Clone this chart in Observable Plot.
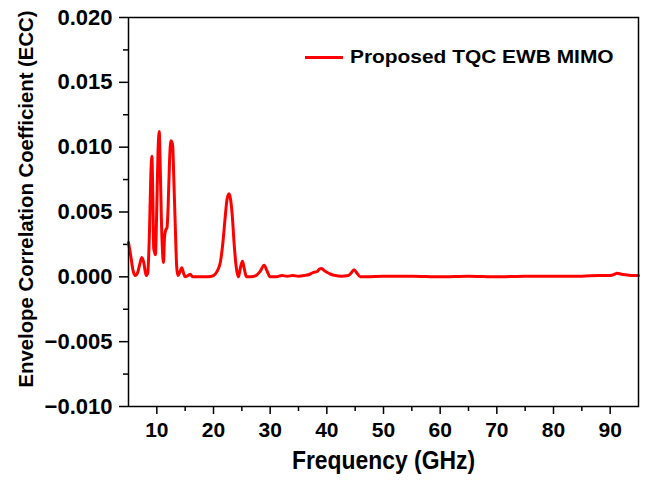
<!DOCTYPE html>
<html>
<head>
<meta charset="utf-8">
<script src="https://cdn.jsdelivr.net/npm/d3@7"></script>
<script src="https://cdn.jsdelivr.net/npm/@observablehq/plot@0.6"></script>
<style>
  html, body { margin: 0; padding: 0; background: #fff; }
  #wrap { position: relative; width: 649px; height: 483px; font-family: "Liberation Sans", Arial, sans-serif; }
  #legend { position: absolute; left: 305px; top: 46px; display: flex; align-items: center; font-weight: bold; font-size: 19px; color: #000; white-space: nowrap; }
  #legend .sw { width: 38px; height: 3px; background: #ff0000; margin-right: 7px; }
  #legtext { display: inline-block; transform: scaleX(1.1); transform-origin: left center; }
</style>
</head>
<body>
<div id="wrap"><div id="legend"><span class="sw"></span><span id="legtext"></span></div></div>
<script>
const seriesName = "Proposed TQC EWB MIMO";
const xTitle = "Frequency (GHz)";
const yTitle = "Envelope Correlation Coefficient (ECC)";
const xTicks = [10, 20, 30, 40, 50, 60, 70, 80, 90];
const xMinorTicks = [15, 25, 35, 45, 55, 65, 75, 85];
const yTicks = [-0.010, -0.005, 0.000, 0.005, 0.010, 0.015, 0.020];
const yMinorTicks = [-0.0075, -0.0025, 0.0025, 0.0075, 0.0125, 0.0175];

const freq = [5.0, 5.4, 5.8, 6.2, 6.6, 7.0, 7.35, 7.7, 8.1, 8.4, 8.7, 8.95, 9.13, 9.3, 9.45, 9.6, 9.75, 9.95, 10.2, 10.42, 10.6, 10.8, 11.0, 11.18, 11.35, 11.55, 11.8, 12.0, 12.25, 12.48, 12.65, 12.8, 13.0, 13.25, 13.5, 13.7, 14.0, 14.4, 14.7, 15.0, 15.5, 15.9, 16.3, 17, 18, 19, 20.0, 20.6, 21.2, 21.6, 22.0, 22.4, 22.75, 23.0, 23.3, 23.65, 24.0, 24.4, 24.75, 25.1, 25.4, 25.8, 26.5, 27.5, 28.2, 28.95, 29.4, 30.0, 31, 32.1, 33, 34, 35, 36, 37.0, 37.65, 38.25, 38.7, 39.1, 39.5, 40.0, 40.7, 41.5, 42.5, 43.8, 44.3, 44.8, 45.3, 45.9, 47, 50, 55, 60, 65, 70, 75, 80, 85, 88, 90, 90.8, 91.2, 92, 93, 94, 95];
const ecc = [0.00265, 0.0016, 0.0005, 0.0001, 0.0003, 0.0010, 0.0015, 0.0011, 0.0001, 0.0003, 0.0035, 0.0080, 0.0093, 0.0060, 0.0022, 0.0019, 0.0017, 0.0045, 0.0095, 0.0112, 0.0085, 0.0045, 0.0020, 0.0011, 0.0030, 0.0036, 0.0038, 0.0055, 0.0090, 0.0105, 0.0104, 0.0101, 0.0075, 0.0040, 0.0008, 0.0001, 0.0003, 0.0007, 0.0003, 0.0000, 0.0001, 0.0002, 0.0000, 0.0000, 0.0000, 0.0000, 0.0001, 0.0004, 0.0011, 0.0024, 0.0043, 0.0060, 0.0064, 0.0060, 0.0048, 0.0025, 0.0008, 0.0000, 0.0007, 0.0012, 0.0007, 0.0000, 0.0000, 0.0001, 0.0004, 0.0009, 0.0005, 0.0000, 0.0000, 0.0001, 0.00005, 0.0001, 0.00005, 0.0001, 0.0002, 0.00035, 0.0004, 0.0006, 0.00065, 0.0005, 0.00035, 0.0002, 0.0001, 0.00005, 0.0001, 0.0003, 0.00055, 0.0003, 0.0000, 0.0000, 0.00005, 0.00005, 0.0000, 0.00005, 0.0000, 0.00005, 0.00005, 0.00005, 0.0001, 0.0001, 0.0002, 0.00028, 0.0002, 0.00015, 0.0001, 0.0001];

const data = freq.map((f, i) => ({f, v: ecc[i]}));
document.getElementById("legtext").textContent = seriesName;

const fmt = d3.format(".3f");
const chart = Plot.plot({
  width: 649,
  height: 483,
  marginTop: 17,
  marginBottom: 77,
  marginLeft: 128,
  marginRight: 11,
  style: {fontFamily: '"Liberation Sans", Arial, sans-serif', fontSize: "21px", fontWeight: "bold", color: "#000", background: "transparent"},
  x: {domain: [5, 95]},
  y: {domain: [-0.010, 0.020]},
  marks: [
    Plot.axisX({ticks: xTicks, tickSize: 8, tickPadding: 8, strokeWidth: 1.5, fontSize: 21, fontWeight: "bold", tickFormat: d => d, label: null}),
    Plot.axisX({ticks: xMinorTicks, tickSize: 5, strokeWidth: 1.5, tickFormat: () => "", label: null}),
    Plot.axisY({ticks: yTicks, tickSize: 9, tickPadding: 7, strokeWidth: 1.5, fontSize: 22, fontWeight: "bold", tickFormat: fmt, label: null}),
    Plot.axisY({ticks: yMinorTicks, tickSize: 5, strokeWidth: 1.5, tickFormat: () => "", label: null}),
    Plot.line(data, {x: "f", y: "v", stroke: "#ff0000", strokeWidth: 3, curve: "monotone-x"}),
    Plot.frame({stroke: "#000", strokeWidth: 1.5}),
    Plot.text([xTitle], {text: d => d, frameAnchor: "bottom", dy: 54, fontSize: 25, fontWeight: "bold", textAnchor: "middle", lineAnchor: "middle"}),
    Plot.text([yTitle], {text: d => d, frameAnchor: "left", dx: -102, dy: -13, rotate: -90, fontSize: 21, fontWeight: "bold", textAnchor: "middle", lineAnchor: "middle"})
  ]
});
d3.select(chart).selectAll("text").filter(function() { return this.textContent === xTitle; })
  .attr("textLength", 183).attr("lengthAdjust", "spacingAndGlyphs");
d3.select(chart).selectAll("text").filter(function() { return this.textContent === yTitle; })
  .attr("textLength", 377).attr("lengthAdjust", "spacingAndGlyphs");
document.getElementById("wrap").prepend(chart);
</script>
</body>
</html>
